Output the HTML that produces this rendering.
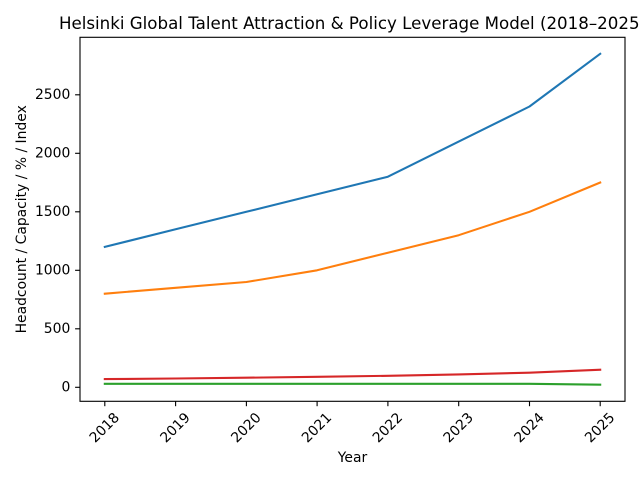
<!DOCTYPE html>
<html><head><meta charset="utf-8"><style>
html,body{margin:0;padding:0;background:#fff;}
svg{display:block;font-family:"DejaVu Sans","Liberation Sans",sans-serif;}
</style></head><body>
<svg width="640" height="480" viewBox="0 0 640 480" xmlns="http://www.w3.org/2000/svg">
<rect width="640" height="480" fill="#fff"/>
<text x="352.5" y="29" font-size="16.67" text-anchor="middle" fill="#000">Helsinki Global Talent Attraction &amp; Policy Leverage Model (2018–2025)</text>
<g fill="none" stroke-width="2.08" stroke-linejoin="round" stroke-linecap="square">
<polyline stroke="#1f77b4" points="104.8,246.9 175.6,229.3 246.4,211.8 317.1,194.2 387.9,176.7 458.7,141.6 529.5,106.5 600.2,53.8"/>
<polyline stroke="#ff7f0e" points="104.8,293.7 175.6,287.8 246.4,282.0 317.1,270.3 387.9,252.7 458.7,235.2 529.5,211.8 600.2,182.5"/>
<polyline stroke="#2ca02c" points="104.8,383.8 175.6,383.8 246.4,383.8 317.1,383.8 387.9,383.8 458.7,383.8 529.5,383.8 600.2,384.7"/>
<polyline stroke="#d62728" points="104.8,379.1 175.6,378.5 246.4,377.7 317.1,376.8 387.9,375.8 458.7,374.4 529.5,372.7 600.2,369.75"/>
</g>
<rect x="80" y="37.3" width="545" height="364" fill="none" stroke="#000" stroke-width="1.11"/>
<g stroke="#000" stroke-width="1.11">
<line x1="75.1" y1="387.3" x2="80" y2="387.3"/>
<line x1="75.1" y1="328.8" x2="80" y2="328.8"/>
<line x1="75.1" y1="270.3" x2="80" y2="270.3"/>
<line x1="75.1" y1="211.8" x2="80" y2="211.8"/>
<line x1="75.1" y1="153.3" x2="80" y2="153.3"/>
<line x1="75.1" y1="94.8" x2="80" y2="94.8"/>
<line x1="104.8" y1="401.3" x2="104.8" y2="406.2"/>
<line x1="175.6" y1="401.3" x2="175.6" y2="406.2"/>
<line x1="246.4" y1="401.3" x2="246.4" y2="406.2"/>
<line x1="317.1" y1="401.3" x2="317.1" y2="406.2"/>
<line x1="387.9" y1="401.3" x2="387.9" y2="406.2"/>
<line x1="458.7" y1="401.3" x2="458.7" y2="406.2"/>
<line x1="529.5" y1="401.3" x2="529.5" y2="406.2"/>
<line x1="600.2" y1="401.3" x2="600.2" y2="406.2"/>
</g>
<g font-size="13.9" fill="#000" text-anchor="end" dominant-baseline="central">
<text x="70.3" y="387.3">0</text>
<text x="70.3" y="328.8">500</text>
<text x="70.3" y="270.3">1000</text>
<text x="70.3" y="211.8">1500</text>
<text x="70.3" y="153.3">2000</text>
<text x="70.3" y="94.8">2500</text>
</g>
<g font-size="13.9" fill="#000" text-anchor="middle" dominant-baseline="central">
<text transform="translate(104.8,428) rotate(-45)">2018</text>
<text transform="translate(175.6,428) rotate(-45)">2019</text>
<text transform="translate(246.4,428) rotate(-45)">2020</text>
<text transform="translate(317.1,428) rotate(-45)">2021</text>
<text transform="translate(387.9,428) rotate(-45)">2022</text>
<text transform="translate(458.7,428) rotate(-45)">2023</text>
<text transform="translate(529.5,428) rotate(-45)">2024</text>
<text transform="translate(600.2,428) rotate(-45)">2025</text>
</g>
<text x="352.5" y="462" font-size="13.9" text-anchor="middle" fill="#000">Year</text>
<text transform="translate(26,219.3) rotate(-90)" font-size="13.9" text-anchor="middle" fill="#000">Headcount / Capacity / % / Index</text>
</svg>
</body></html>
